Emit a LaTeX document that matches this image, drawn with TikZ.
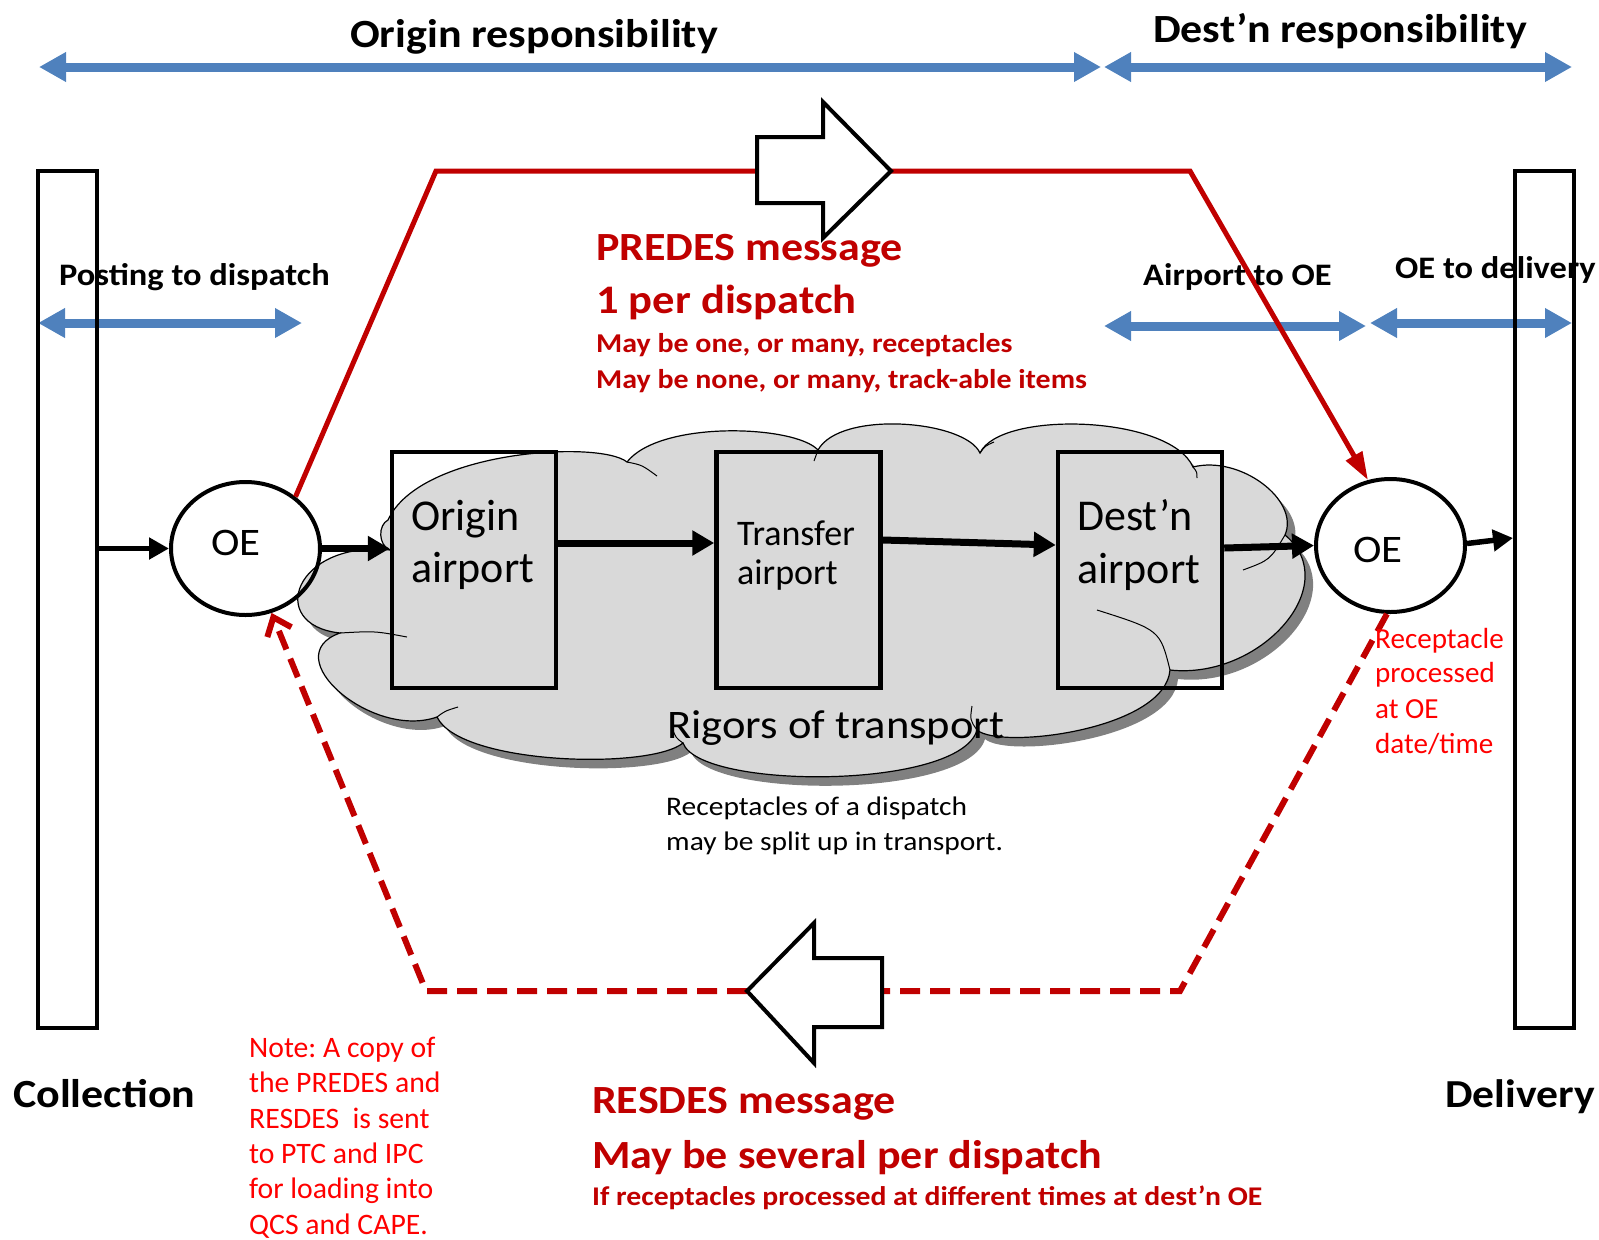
\documentclass[tikz,border=0pt]{standalone}
\usepackage{fontspec}
\setmainfont{Carlito}
\newfontfamily\wfont{Carlito}[FakeStretch=1.1]
\usetikzlibrary{arrows.meta,shapes.geometric}
\definecolor{oblue}{HTML}{4F81BD}
\definecolor{dred}{HTML}{C00000}
\definecolor{bred}{HTML}{FF0000}
\definecolor{cloudgray}{HTML}{D9D9D9}
\definecolor{shadowgray}{HTML}{808080}
\newcommand\fsz[2]{\fontsize{#1}{#2}\selectfont}
% outline of the transport cloud
\newcommand\cloudoutline{(340,633) .. controls (275,656) and (372,740) .. (437,717)
 .. controls (460,765) and (650,770) .. (683,743)
 .. controls (700,790) and (960,790) .. (977,730)
 .. controls (1000,750) and (1165,730) .. (1170,670)
 .. controls (1260,680) and (1345,585) .. (1285,535)
 .. controls (1300,500) and (1240,455) .. (1193,467)
 .. controls (1170,415) and (1000,410) .. (980,453)
 .. controls (965,420) and (840,410) .. (818,450)
 .. controls (795,425) and (660,420) .. (627,462)
 .. controls (600,440) and (420,450) .. (388,520)
 .. controls (378,525) and (378,545) .. (390,550)
 .. controls (295,540) and (265,625) .. cycle}
\frenchspacing
\begin{document}
\begin{tikzpicture}[x=1pt,y=-1pt,
  span/.style={oblue, line width=9pt, {Triangle[length=27pt,width=28pt]}-{Triangle[length=27pt,width=28pt]}},
  bar/.style={draw, line width=4pt, minimum width=59pt, minimum height=857pt, inner sep=0},
  port/.style={draw, line width=4.5pt, minimum width=164pt, minimum height=236pt, inner sep=0},
  oe/.style={draw, ellipse, line width=4pt, minimum width=149pt, minimum height=133pt, inner sep=0},
  flow/.style={line width=7pt, -{Triangle[length=22pt,width=24pt]}},
  thinflow/.style={line width=5.5pt, -{Triangle[length=20pt,width=21pt]}},
  predes/.style={dred, line width=5pt},
  resdes/.style={dred, line width=6pt, dash pattern=on 20pt off 10pt},
  blockarrow/.style={draw, fill=white, line width=4pt, line join=miter},
  lbl/.style={inner sep=0, anchor=base west},
  cloudarc/.style={line width=1pt},
]
\useasboundingbox (0,0) rectangle (1599,1240);

% responsibility spans
\coordinate (o1) at (39,67);   \coordinate (o2) at (1101,67);
\coordinate (d1) at (1104,67); \coordinate (d2) at (1572,67);
\coordinate (p1) at (38,323);  \coordinate (p2) at (302,323);
\coordinate (a1) at (1104,326);\coordinate (a2) at (1366,326);
\coordinate (e1) at (1370,323);\coordinate (e2) at (1572,323);
\draw[span] (o1) -- (o2);
\draw[span] (d1) -- (d2);
\draw[span] (p1) -- (p2);
\draw[span] (a1) -- (a2);
\draw[span] (e1) -- (e2);

% collection and delivery bars
\node[bar] (coll) at (67.5,599.5) {};
\node[bar] (deliv) at (1544.5,599.5) {};

% cloud with its shadow
\begin{scope}[shift={(8,9)}]
  \fill[shadowgray] \cloudoutline;
\end{scope}
\fill[cloudgray] \cloudoutline;
\draw[line width=1.2pt] \cloudoutline;
\draw[cloudarc] (627,462) .. controls (642,465) .. (657,476);
\draw[cloudarc] (340,633) .. controls (375,631) .. (407,637);
\draw[cloudarc] (437,717) .. controls (445,711) .. (458,707);
\draw[cloudarc] (683,743) .. controls (676,738) .. (672,728);
\draw[cloudarc] (977,730) .. controls (970,720) .. (972,706);
\draw[cloudarc] (1170,670) .. controls (1160,630) .. (1097,610);
\draw[cloudarc] (1285,535) .. controls (1270,560) .. (1243,570);
\draw[cloudarc] (1193,467) .. controls (1197,472) .. (1197,478);
\draw[cloudarc] (980,453) .. controls (985,446) .. (994,442);
\draw[cloudarc] (818,450) .. controls (816,455) .. (814,461);

% airports and offices of exchange
\node[port] (orig) at (474,570) {};
\node[port] (trans) at (798.5,570) {};
\node[port] (dest) at (1140,570) {};
\node[oe] (oeL) at (245.5,548.5) {};
\node[oe] (oeR) at (1390.5,545.5) {};

% mail flow
\draw[thinflow] (coll.east |- oeL.west) -- (oeL.west);
\draw[flow] (oeL.east) -- (orig.west |- oeL.east);
\draw[flow] ([yshift=27pt]orig.east) -- ([yshift=27pt]trans.west);
\draw[flow] ([yshift=30pt]trans.east) -- ([yshift=25pt]dest.west);
\draw[flow] ([yshift=22pt]dest.east) -- (oeR.west);
\draw[thinflow] ([yshift=2pt]oeR.east) -- ([yshift=61.5pt]deliv.west);

% PREDES message path
\coordinate (pk1) at (436,171);
\coordinate (pk2) at (1190,171);
\coordinate (predesTail) at (757,171);
\coordinate (predesTip) at (891,171);
\draw[predes] (oeL.46) -- (pk1) -- (predesTail);
\draw[predes, -{Triangle[length=28pt,width=18pt]}] (predesTip) -- (pk2) -- (oeR.109);
\draw[blockarrow] (757,137) -- (823,137) -- (823,102) -- (predesTip) -- (823,238) -- (823,203) -- (757,203) -- cycle;

% RESDES message path
\coordinate (rk1) at (1180,991);
\coordinate (rk2) at (426,991);
\coordinate (resdesTail) at (882,991);
\coordinate (resdesTip) at (747,991);
\draw[resdes] (oeR.267) -- (rk1) -- (resdesTail);
\draw[resdes, -{Straight Barb[length=16pt,width=26pt]}] (resdesTip) -- (rk2) -- (oeL.292);
\draw[blockarrow] (882,958) -- (814,958) -- (814,923) -- (resdesTip) -- (814,1063) -- (814,1027) -- (882,1027) -- cycle;

% headings
\node[lbl, anchor=base, font=\wfont\bfseries\fsz{40}{48}] (tOrig) at (534,47) {Origin responsibility};
\node[lbl, anchor=base, font=\wfont\bfseries\fsz{40}{48}] (tDest) at (1340,42) {Dest’n responsibility};
\node[lbl, font=\wfont\bfseries\fsz{31.3}{38}] (tPost) at (59,285) {Posting to dispatch};
\node[lbl, font=\wfont\bfseries\fsz{31.3}{38}] (tAir) at (1143,285) {Airport to OE};
\node[lbl, font=\wfont\bfseries\fsz{31.3}{38}] (tDel) at (1395,278) {OE to delivery};
\node[lbl, font=\wfont\bfseries\fsz{40}{48}] (tColl) at (13,1107) {Collection};
\node[lbl, font=\wfont\bfseries\fsz{39.7}{48}] (tDeliv) at (1445,1107) {Delivery};

% PREDES notes
\node[lbl, dred, font=\wfont\bfseries\fsz{40}{48}] (pr1) at (596,260) {PREDES message};
\node[lbl, dred, font=\wfont\bfseries\fsz{40.5}{48}] (pr2) at (596,313) {1 per dispatch};
\node[lbl, dred, font=\wfont\bfseries\fsz{27.2}{33}] (pr3) at (596,352) {May be one, or many, receptacles};
\node[lbl, dred, font=\wfont\bfseries\fsz{27.2}{33}] (pr4) at (596,388) {May be none, or many, track-able items};

% RESDES notes
\node[lbl, dred, font=\wfont\bfseries\fsz{40}{48}] (rs1) at (592,1113) {RESDES message};
\node[lbl, dred, font=\wfont\bfseries\fsz{40}{48}] (rs2) at (592,1168) {May be several per dispatch};
\node[lbl, dred, font=\wfont\bfseries\fsz{27}{33}] (rs3) at (592,1205) {If receptacles processed at different times at dest’n OE};

% node texts
\node[lbl, anchor=base, font=\wfont\fsz{39}{47}] (oeLt) at (236,555) {OE};
\node[lbl, anchor=base, font=\wfont\fsz{39}{47}] (oeRt) at (1378,562) {OE};
\node[lbl, font=\fsz{44}{52}] (orig1) at (411,530) {Origin};
\node[lbl, font=\fsz{44}{52}] (orig2) at (411,582) {airport};
\node[lbl, font=\fsz{36}{42}] (trans1) at (737,545) {Transfer};
\node[lbl, font=\fsz{36}{42}] (trans2) at (737,584) {airport};
\node[lbl, font=\fsz{44}{52}] (dest1) at (1077,530) {Dest’n};
\node[lbl, font=\fsz{44}{52}] (dest2) at (1077,583) {airport};
\node[lbl, font=\wfont\fsz{40.5}{48}] (rig) at (667,738) {Rigors of transport};
\node[lbl, font=\wfont\fsz{26.8}{33}] (split1) at (666,815) {Receptacles of a dispatch};
\node[lbl, font=\wfont\fsz{26.8}{33}] (split2) at (666,850) {may be split up in transport.};

% red remarks
\node[lbl, bred, font=\fsz{29.1}{35}] (rc1) at (1375,648) {Receptacle};
\node[lbl, bred, font=\fsz{29.1}{35}] (rc2) at (1375,682) {processed};
\node[lbl, bred, font=\fsz{29.1}{35}] (rc3) at (1375,718) {at OE};
\node[lbl, bred, font=\fsz{29.1}{35}] (rc4) at (1375,753) {date/time};
\node[lbl, bred, font=\fsz{29.7}{35}] (n1) at (249,1057) {Note: A copy of};
\node[lbl, bred, font=\fsz{29.7}{35}] (n2) at (249,1092) {the PREDES and};
\node[lbl, bred, font=\fsz{29.7}{35}] (n3) at (249,1128) {RESDES\ \ is sent};
\node[lbl, bred, font=\fsz{29.7}{35}] (n4) at (249,1163) {to PTC and IPC};
\node[lbl, bred, font=\fsz{29.7}{35}] (n5) at (249,1198) {for loading into};
\node[lbl, bred, font=\fsz{29.7}{35}] (n6) at (249,1234) {QCS and CAPE.};
\end{tikzpicture}
\end{document}
